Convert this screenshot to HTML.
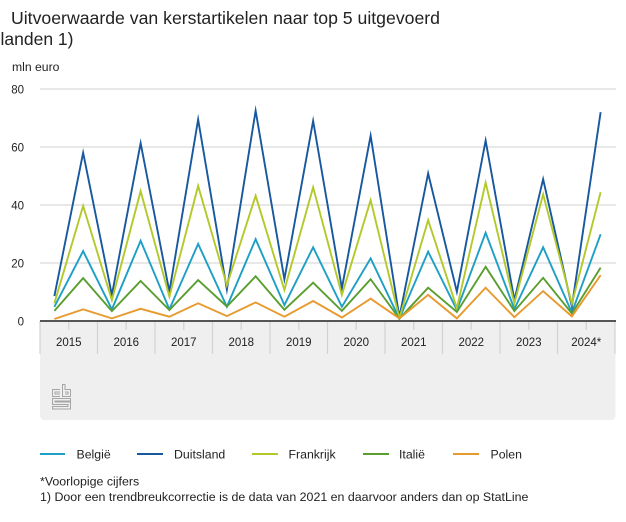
<!DOCTYPE html>
<html>
<head>
<meta charset="utf-8">
<style>
html,body{margin:0;padding:0;background:#fff;}
svg{display:block;}
text{font-family:"Liberation Sans",Arial,sans-serif;fill:#222;}
</style>
</head>
<body>
<svg width="626" height="522" viewBox="0 0 626 522" xmlns="http://www.w3.org/2000/svg">
  <!-- Title -->
  <text x="11" y="24" font-size="17.5" textLength="429" lengthAdjust="spacingAndGlyphs">Uitvoerwaarde van kerstartikelen naar top 5 uitgevoerd</text>
  <text x="0.5" y="45" font-size="17.5">landen 1)</text>
  <text x="12" y="71" font-size="12.2">mln euro</text>

  <!-- gridlines -->
  <g stroke="#d9d9d9" stroke-width="1.2">
    <line x1="40" y1="89" x2="616" y2="89"/>
    <line x1="40" y1="147" x2="616" y2="147"/>
    <line x1="40" y1="205" x2="616" y2="205"/>
    <line x1="40" y1="263" x2="616" y2="263"/>
  </g>
  <!-- y labels -->
  <g font-size="11.5" text-anchor="end">
    <text x="24" y="93.5">80</text>
    <text x="24" y="151.5">60</text>
    <text x="24" y="209.5">40</text>
    <text x="24" y="267.5">20</text>
    <text x="24" y="325.5">0</text>
  </g>

  <!-- gray x-axis band -->
  <path d="M40,321 H615.5 V415 Q615.5,420 610.5,420 H45 Q40,420 40,415 Z" fill="#efefef"/>
  <g stroke="#d2d2d2" stroke-width="1.2">
    <line x1="40" y1="321" x2="40" y2="354"/>
    <line x1="97.5" y1="321" x2="97.5" y2="354"/>
    <line x1="155" y1="321" x2="155" y2="354"/>
    <line x1="212.5" y1="321" x2="212.5" y2="354"/>
    <line x1="270" y1="321" x2="270" y2="354"/>
    <line x1="327.5" y1="321" x2="327.5" y2="354"/>
    <line x1="385" y1="321" x2="385" y2="354"/>
    <line x1="442.5" y1="321" x2="442.5" y2="354"/>
    <line x1="500" y1="321" x2="500" y2="354"/>
    <line x1="557.5" y1="321" x2="557.5" y2="354"/>
    <line x1="615" y1="321" x2="615" y2="354"/>
    <line x1="68.75" y1="321" x2="68.75" y2="330"/>
    <line x1="126.25" y1="321" x2="126.25" y2="330"/>
    <line x1="183.75" y1="321" x2="183.75" y2="330"/>
    <line x1="241.25" y1="321" x2="241.25" y2="330"/>
    <line x1="298.75" y1="321" x2="298.75" y2="330"/>
    <line x1="356.25" y1="321" x2="356.25" y2="330"/>
    <line x1="413.75" y1="321" x2="413.75" y2="330"/>
    <line x1="471.25" y1="321" x2="471.25" y2="330"/>
    <line x1="528.75" y1="321" x2="528.75" y2="330"/>
    <line x1="586.25" y1="321" x2="586.25" y2="330"/>
  </g>
  <g font-size="11.5" text-anchor="middle">
    <text x="68.75" y="346">2015</text>
    <text x="126.25" y="346">2016</text>
    <text x="183.75" y="346">2017</text>
    <text x="241.25" y="346">2018</text>
    <text x="298.75" y="346">2019</text>
    <text x="356.25" y="346">2020</text>
    <text x="413.75" y="346">2021</text>
    <text x="471.25" y="346">2022</text>
    <text x="528.75" y="346">2023</text>
    <text x="586.25" y="346">2024*</text>
  </g>

  <!-- cbs logo -->
  <g fill="none" stroke="#a6a6a6" stroke-width="1">
    <path d="M60,389.5 H52.5 V396.5 H60 M60,392 H55 V394 H60"/>
    <path d="M62.5,384.5 V396.5 H70.5 V389.5 H65 V384.5 Z M65,392 H68 V394 H65"/>
    <path d="M70.5,398.5 H52.5 V404.5 H68 V406.5 H52.5 V409 H70.5 V402 H55 V401 H70.5 Z"/>
  </g>

  <!-- series -->
  <g fill="none" stroke-width="1.9" stroke-linejoin="miter" stroke-miterlimit="10">
    <polyline stroke="#1d9fc6" points="54.38,306.8 83.13,251.1 111.88,309.4 140.63,240.7 169.38,309.4 198.13,243.9 226.88,306.8 255.63,239.2 284.38,305.1 313.13,247.3 341.88,306.8 370.63,258.4 399.38,318.7 428.13,251.7 456.88,310.0 485.63,232.8 514.38,309.1 543.13,247.3 571.88,312.6 600.63,234.3"/>
    <polyline stroke="#17589f" points="54.38,296.1 83.13,152.8 111.88,294.9 140.63,143.2 169.38,291.7 198.13,119.5 226.88,289.4 255.63,110.75 284.38,279.2 313.13,120.9 341.88,288.2 370.63,135.7 399.38,317.2 428.13,173.4 456.88,291.7 485.63,140.6 514.38,300.1 543.13,179.2 571.88,306.5 600.63,112.2"/>
    <polyline stroke="#b3c92a" points="54.38,303.3 83.13,205.9 111.88,300.1 140.63,191.1 169.38,296.6 198.13,185.9 226.88,285.3 255.63,195.7 284.38,290.0 313.13,187.3 341.88,294.9 370.63,200.1 399.38,318.1 428.13,220.1 456.88,308.2 485.63,182.7 514.38,303.3 543.13,194.3 571.88,303.6 600.63,192.2"/>
    <polyline stroke="#5a9e2f" points="54.38,310.9 83.13,278.1 111.88,311.1 140.63,281.0 169.38,310.0 198.13,280.1 226.88,306.5 255.63,276.3 284.38,309.7 313.13,282.7 341.88,310.9 370.63,279.2 399.38,318.7 428.13,287.7 456.88,312.0 485.63,266.8 514.38,311.1 543.13,277.8 571.88,313.5 600.63,267.6"/>
    <polyline stroke="#e79b2f" points="54.38,319.0 83.13,309.4 111.88,318.4 140.63,308.8 169.38,316.7 198.13,303.3 226.88,316.1 255.63,302.4 284.38,316.7 313.13,301.0 341.88,317.5 370.63,298.7 399.38,318.4 428.13,294.9 456.88,318.4 485.63,287.7 514.38,317.2 543.13,291.1 571.88,316.4 600.63,275.2"/>
  </g>

  <!-- x axis line -->
  <line x1="40" y1="321" x2="616" y2="321" stroke="#555" stroke-width="2"/>

  <!-- legend -->
  <g stroke-width="2">
    <line x1="40" y1="454" x2="65" y2="454" stroke="#1d9fc6"/>
    <line x1="137" y1="454" x2="163" y2="454" stroke="#17589f"/>
    <line x1="252" y1="454" x2="278" y2="454" stroke="#b3c92a"/>
    <line x1="363" y1="454" x2="389" y2="454" stroke="#5a9e2f"/>
    <line x1="453" y1="454" x2="479" y2="454" stroke="#e79b2f"/>
  </g>
  <g font-size="12.3">
    <text x="76.5" y="458.5">België</text>
    <text x="174" y="458.5">Duitsland</text>
    <text x="288.5" y="458.5">Frankrijk</text>
    <text x="399" y="458.5">Italië</text>
    <text x="490.5" y="458.5">Polen</text>
  </g>

  <!-- footnotes -->
  <g font-size="12.4">
    <text x="40" y="485.5">*Voorlopige cijfers</text>
    <text x="40" y="501">1) Door een trendbreukcorrectie is de data van 2021 en daarvoor anders dan op StatLine</text>
  </g>
</svg>
</body>
</html>
